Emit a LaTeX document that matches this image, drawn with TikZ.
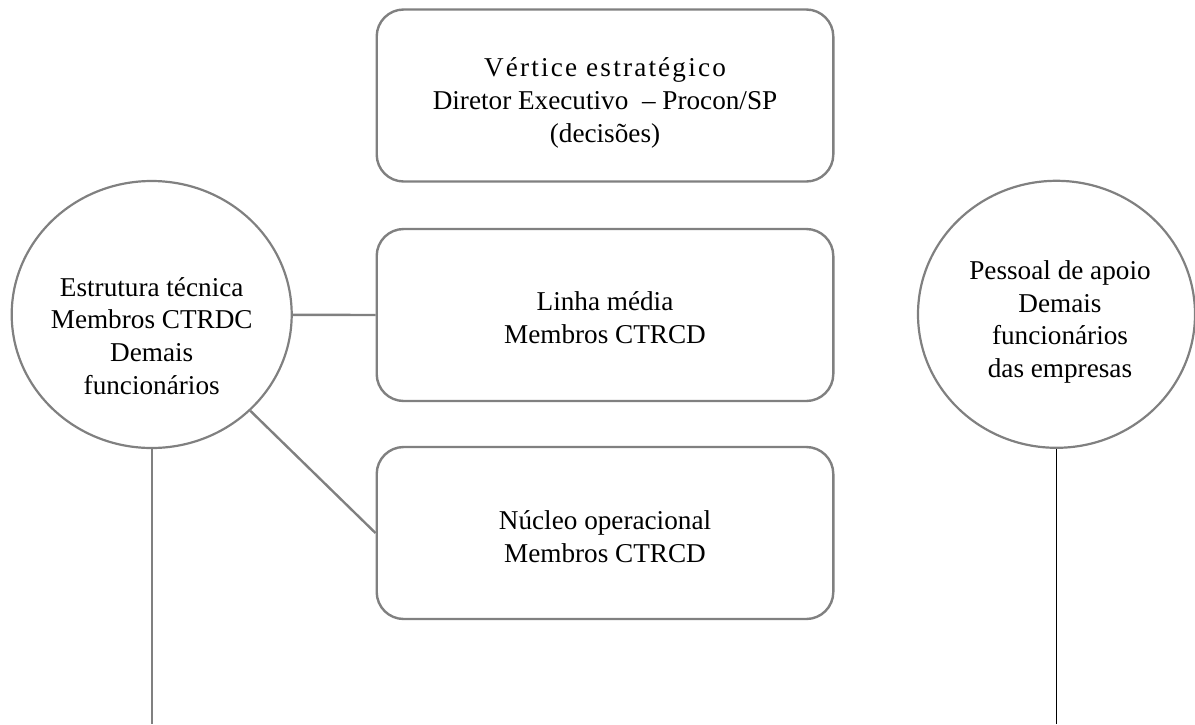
\documentclass[tikz,border=0pt]{standalone}
\usepackage{fontspec}
\setmainfont{Liberation Serif}
\usetikzlibrary{shapes.geometric}
\definecolor{lg}{RGB}{128,128,128}
\begin{document}
\begin{tikzpicture}[x=0.5pt,y=-0.5pt,
  box/.style={draw=lg,line width=1.2pt,rounded corners=13.5pt,minimum width=228.3pt,minimum height=86pt,inner sep=0pt},
  oval/.style={draw=lg,line width=1.1pt,ellipse,minimum width=140pt,minimum height=133.5pt,inner sep=0pt},
  txt/.style={align=center,font=\fontsize{13.6}{16.4}\selectfont,inner sep=0pt},
  conn/.style={draw=lg,line width=1.2pt}]
\useasboundingbox (0,0) rectangle (1195,724);
% boxes
\node[box] (B1) at (605,95.5) {};
\node[box] (B2) at (605,315) {};
\node[box] (B3) at (605,533) {};
\node[txt] (B1t) at (605,103) {{\addfontfeature{LetterSpace=8}Vértice estratégico}\\Diretor Executivo\ \ – Procon/SP\\(decisões)};
\node[txt] (B2t) at (605,318) {Linha média\\Membros CTRCD};
\node[txt] (B3t) at (605,537) {Núcleo operacional\\Membros CTRCD};
% ovals
\node[oval] (L) at (151.7,314.5) {};
\node[oval,minimum width=138.5pt] (R) at (1056.5,314.3) {};
\node[txt] (Lt) at (151.7,336) {Estrutura técnica\\Membros CTRDC\\Demais\\funcionários};
\node[txt] (Rt) at (1060,322) {Pessoal de apoio\\Demais\\funcionários\\das empresas};
% connectors
\coordinate (Lb) at (151.7,724);
\coordinate (Rb) at (1056.5,724);
\draw[conn] (L) -- (B2.west);
\draw[conn] (L) -- (B3.west);
\draw[conn] (L.south) -- (Lb);
\draw[black,line width=0.5pt] (R.south) -- (Rb);
\end{tikzpicture}
\end{document}
